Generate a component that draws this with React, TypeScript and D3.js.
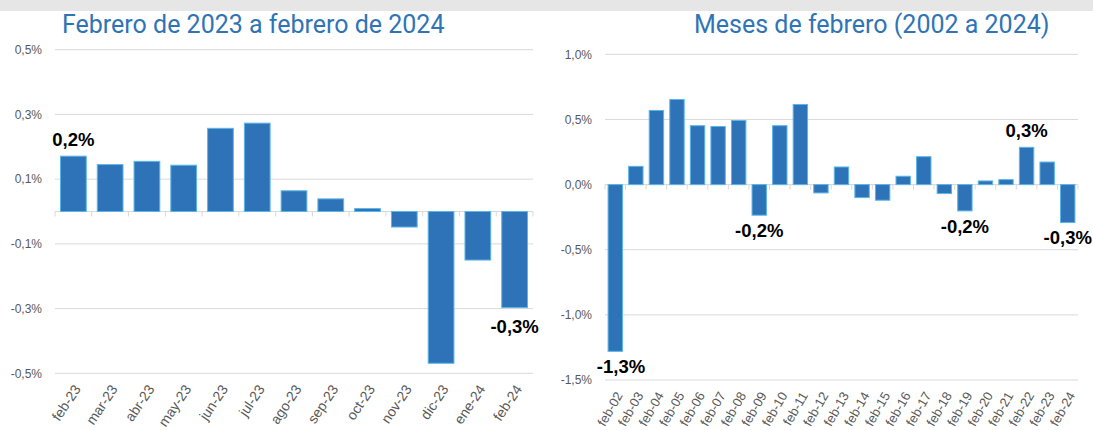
import React from 'react';
import * as d3 from 'd3';

// Febrero 2023 - febrero 2024 (variación mensual, %)
const monthCats = ['feb-23', 'mar-23', 'abr-23', 'may-23', 'jun-23', 'jul-23', 'ago-23', 'sep-23', 'oct-23', 'nov-23', 'dic-23', 'ene-24', 'feb-24'];
const monthValues = [0.171, 0.145, 0.155, 0.143, 0.257, 0.273, 0.064, 0.039, 0.009, -0.048, -0.469, -0.15, -0.297];
const monthTicks = [-0.5, -0.3, -0.1, 0.1, 0.3, 0.5];
const monthLabels = [
  { cat: 'feb-23', text: '0,2%' },
  { cat: 'feb-24', text: '-0,3%' }
];

// Meses de febrero 2002 - 2024
const febCats = ['feb-02', 'feb-03', 'feb-04', 'feb-05', 'feb-06', 'feb-07', 'feb-08', 'feb-09', 'feb-10', 'feb-11', 'feb-12', 'feb-13', 'feb-14', 'feb-15', 'feb-16', 'feb-17', 'feb-18', 'feb-19', 'feb-20', 'feb-21', 'feb-22', 'feb-23', 'feb-24'];
const febValues = [-1.28, 0.14, 0.569, 0.653, 0.452, 0.446, 0.492, -0.235, 0.452, 0.615, -0.064, 0.135, -0.1, -0.12, 0.064, 0.214, -0.069, -0.202, 0.028, 0.038, 0.286, 0.173, -0.291];
const febTicks = [-1.5, -1.0, -0.5, 0.0, 0.5, 1.0];
const febLabels = [
  { cat: 'feb-02', text: '-1,3%' },
  { cat: 'feb-09', text: '-0,2%' },
  { cat: 'feb-19', text: '-0,2%' },
  { cat: 'feb-22', text: '0,3%' },
  { cat: 'feb-24', text: '-0,3%' }
];

const BLUE = '#2e72b8';
const EDGE = '#5ab6e8';
const TITLE = '#2f74b5';
const GRID = '#d9d9d9';
const TICK_TEXT = '#595959';
const AXIS_FONT = '"Liberation Sans", Arial, sans-serif';

const Panel = ({ title, titleX, cats, values, ticks, decimals, labels, x0, x1, yTop, yBottom, domain, below, angle, catSize }) => {
  const x = d3.scaleBand().domain(cats).range([x0, x1]).paddingInner(0.3).paddingOuter(0.15);
  const y = d3.scaleLinear().domain(domain).range([yBottom, yTop]);
  const fmt = (v) => d3.format(`.${decimals}f`)(v).replace('.', ',').replace('−', '-') + '%';
  const zero = y(0);
  const step = x.step();

  return (
    <g>
      <text x={titleX} y={33} fill={TITLE} fontFamily="Roboto, sans-serif" fontSize={25}>
        {title}
      </text>
      {ticks.map((t) => (
        <g key={t}>
          <line x1={x0} x2={x1} y1={y(t)} y2={y(t)} stroke={GRID} strokeWidth={1} />
          <text x={x0 - 13} y={y(t)} dy="0.35em" textAnchor="end" fill={TICK_TEXT} fontFamily={AXIS_FONT} fontSize={12}>
            {fmt(t)}
          </text>
        </g>
      ))}
      <line x1={x0} x2={x1} y1={zero} y2={zero} stroke={GRID} strokeWidth={1} />
      {d3.range(cats.length + 1).map((i) => (
        <line key={i} x1={x0 + i * step} x2={x0 + i * step} y1={zero} y2={zero + 5} stroke={GRID} strokeWidth={1} />
      ))}
      {cats.map((c, i) => {
        const v = values[i];
        return (
          <rect
            key={c}
            x={x(c)}
            y={Math.min(y(v), zero)}
            width={x.bandwidth()}
            height={Math.abs(y(v) - zero)}
            fill={BLUE}
            stroke={EDGE}
            strokeWidth={1}
          />
        );
      })}
      {cats.map((c) => {
        const cx = x(c) + x.bandwidth() / 2;
        return (
          <text
            key={c}
            transform={`translate(${cx + 4},${yBottom + 13}) rotate(${angle})`}
            dy="0.35em"
            textAnchor="end"
            fill={TICK_TEXT}
            fontFamily={AXIS_FONT}
            fontSize={catSize}
          >
            {c}
          </text>
        );
      })}
      {labels.map((l) => {
        const i = cats.indexOf(l.cat);
        const v = values[i];
        const cx = Math.max(x(l.cat) + x.bandwidth() / 2, x0 + 16);
        const ly = v >= 0 ? y(v) - 10 : y(v) + below;
        return (
          <text key={l.cat} x={cx} y={ly} textAnchor="middle" fill="#000" fontFamily={AXIS_FONT} fontWeight="bold" fontSize={18.5}>
            {l.text}
          </text>
        );
      })}
    </g>
  );
};

export default function App() {
  return (
    <div style={{ position: 'absolute', left: 0, top: 0 }}>
      <svg width={1093} height={430} style={{ display: 'block', background: '#fff' }}>
        <rect x={0} y={0} width={1093} height={11} fill="#e6e6e6" />
        <Panel
          title="Febrero de 2023 a febrero de 2024"
          titleX={62}
          cats={monthCats}
          values={monthValues}
          ticks={monthTicks}
          decimals={1}
          labels={monthLabels}
          x0={55}
          x1={533}
          yTop={49.7}
          yBottom={373.3}
          domain={[-0.5, 0.5]}
          below={25}
          angle={-56}
          catSize={14}
        />
        <Panel
          title="Meses de febrero (2002 a 2024)"
          titleX={694}
          cats={febCats}
          values={febValues}
          ticks={febTicks}
          decimals={1}
          labels={febLabels}
          x0={605}
          x1={1078}
          yTop={54.3}
          yBottom={380}
          domain={[-1.5, 1.0]}
          below={22}
          angle={-60}
          catSize={13}
        />
      </svg>
    </div>
  );
}
